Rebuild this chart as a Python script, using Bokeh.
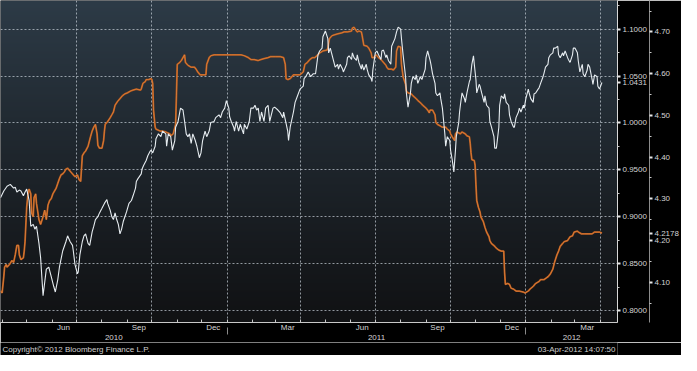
import numpy as np
import pandas as pd
from bokeh.plotting import figure
from bokeh.layouts import column
from bokeh.models import FixedTicker, LinearAxis, Range1d, NumeralTickFormatter, AllLabels
from bokeh.core.properties import value
from bokeh.embed import file_html
from bokeh.resources import INLINE

# ---------------- data ----------------
white_dates = [
"2010-03-30","2010-04-03","2010-04-07","2010-04-11","2010-04-15","2010-04-17","2010-04-19","2010-04-22","2010-04-24","2010-04-27",
"2010-04-29","2010-05-01","2010-05-04","2010-05-06","2010-05-09","2010-05-11","2010-05-13","2010-05-16","2010-05-18","2010-05-21",
"2010-05-25","2010-05-28","2010-05-31","2010-06-03","2010-06-05","2010-06-08","2010-06-10","2010-06-14","2010-06-18","2010-06-20",
"2010-06-23","2010-06-26","2010-06-27","2010-06-29","2010-07-02","2010-07-03","2010-07-05","2010-07-08","2010-07-10","2010-07-12",
"2010-07-15","2010-07-17","2010-07-20","2010-07-22","2010-07-24","2010-07-27","2010-07-29","2010-08-01","2010-08-04","2010-08-07",
"2010-08-08","2010-08-11","2010-08-13","2010-08-15","2010-08-17","2010-08-19","2010-08-21","2010-08-23","2010-08-25","2010-08-27",
"2010-08-29","2010-08-31","2010-09-03","2010-09-06","2010-09-08","2010-09-11","2010-09-12","2010-09-14","2010-09-18","2010-09-19",
"2010-09-21","2010-09-24","2010-09-26","2010-09-29","2010-09-30","2010-10-02","2010-10-05","2010-10-06","2010-10-09","2010-10-12",
"2010-10-14","2010-10-18","2010-10-19","2010-10-21","2010-10-24","2010-10-26","2010-10-29","2010-10-30","2010-11-02","2010-11-05",
"2010-11-08","2010-11-10","2010-11-12","2010-11-14","2010-11-16","2010-11-18","2010-11-20","2010-11-23","2010-11-25","2010-11-28",
"2010-11-30","2010-12-02","2010-12-05","2010-12-07","2010-12-10","2010-12-12","2010-12-16","2010-12-18","2010-12-22","2010-12-24",
"2010-12-26","2010-12-29","2010-12-31","2011-01-03","2011-01-04","2011-01-06","2011-01-09","2011-01-10","2011-01-12","2011-01-15",
"2011-01-17","2011-01-21","2011-01-22","2011-01-25","2011-01-28","2011-01-30","2011-02-02","2011-02-04","2011-02-06","2011-02-08",
"2011-02-10","2011-02-12","2011-02-15","2011-02-17","2011-02-20","2011-02-22","2011-02-26","2011-02-28","2011-03-04","2011-03-07",
"2011-03-10","2011-03-11","2011-03-13","2011-03-16","2011-03-17","2011-03-19","2011-03-23","2011-03-25","2011-03-28","2011-03-31",
"2011-04-04","2011-04-05","2011-04-07","2011-04-10","2011-04-13","2011-04-16","2011-04-19","2011-04-22","2011-04-24","2011-04-27",
"2011-04-28","2011-05-01","2011-05-04","2011-05-05","2011-05-07","2011-05-10","2011-05-13","2011-05-16","2011-05-17","2011-05-19",
"2011-05-22","2011-05-23","2011-05-27","2011-05-28","2011-05-30","2011-06-02","2011-06-03","2011-06-05","2011-06-08","2011-06-09",
"2011-06-11","2011-06-14","2011-06-15","2011-06-17","2011-06-20","2011-06-21","2011-06-23","2011-06-26","2011-06-27","2011-06-28",
"2011-07-01","2011-07-03","2011-07-05","2011-07-08","2011-07-09","2011-07-11","2011-07-14","2011-07-15","2011-07-17","2011-07-20",
"2011-07-21","2011-07-25","2011-07-27","2011-07-29","2011-08-01","2011-08-02","2011-08-04","2011-08-07","2011-08-08","2011-08-10",
"2011-08-13","2011-08-14","2011-08-16","2011-08-19","2011-08-20","2011-08-22","2011-08-25","2011-08-27","2011-08-31","2011-09-01",
"2011-09-03","2011-09-06","2011-09-07","2011-09-09","2011-09-12","2011-09-13","2011-09-15","2011-09-18","2011-09-19","2011-09-21",
"2011-09-24","2011-09-25","2011-09-27","2011-09-30","2011-10-01","2011-10-03","2011-10-05","2011-10-07","2011-10-08","2011-10-11",
"2011-10-12","2011-10-13","2011-10-15","2011-10-18","2011-10-19","2011-10-21","2011-10-24","2011-10-25","2011-10-27","2011-10-29",
"2011-10-30","2011-11-01","2011-11-02","2011-11-05","2011-11-06","2011-11-08","2011-11-11","2011-11-12","2011-11-14","2011-11-17",
"2011-11-18","2011-11-20","2011-11-23","2011-11-24","2011-11-26","2011-11-29","2011-11-30","2011-12-02","2011-12-05","2011-12-06",
"2011-12-08","2011-12-11","2011-12-12","2011-12-14","2011-12-17","2011-12-18","2011-12-20","2011-12-23","2011-12-24","2011-12-26",
"2011-12-29","2011-12-30","2012-01-01","2012-01-04","2012-01-05","2012-01-07","2012-01-10","2012-01-11","2012-01-13","2012-01-16",
"2012-01-17","2012-01-19","2012-01-22","2012-01-23","2012-01-25","2012-01-28","2012-01-29","2012-01-31","2012-02-03","2012-02-04",
"2012-02-06","2012-02-09","2012-02-10","2012-02-12","2012-02-15","2012-02-16","2012-02-18","2012-02-21","2012-02-22","2012-02-24",
"2012-02-27","2012-02-28","2012-03-01","2012-03-04","2012-03-05","2012-03-07","2012-03-10","2012-03-11","2012-03-13","2012-03-16",
"2012-03-17","2012-03-19","2012-03-22","2012-03-23","2012-03-25","2012-03-28","2012-03-29","2012-03-31","2012-04-03"]
white_values = [
0.9204,0.9275,0.9326,0.9346,0.9306,0.9316,0.9265,0.9285,0.9275,0.9224,
0.9265,0.9295,0.9174,0.8900,0.8920,0.8869,0.8900,0.8717,0.8565,0.8159,
0.8443,0.8463,0.8362,0.8260,0.8199,0.8331,0.8463,0.8636,0.8737,0.8798,
0.8737,0.8696,0.8636,0.8493,0.8392,0.8412,0.8595,0.8737,0.8798,0.8818,
0.8717,0.8696,0.8839,0.8900,0.8971,0.9001,0.9042,0.9092,0.9143,0.9184,
0.9143,0.9072,0.9001,0.8971,0.9042,0.8971,0.8920,0.8818,0.8869,0.8950,
0.9001,0.9052,0.9143,0.9174,0.9224,0.9306,0.9377,0.9407,0.9458,0.9509,
0.9549,0.9600,0.9651,0.9701,0.9711,0.9681,0.9752,0.9833,0.9884,0.9854,
0.9914,0.9884,0.9752,0.9884,0.9854,0.9711,0.9813,0.9955,1.0016,1.0158,
1.0138,1.0016,0.9884,0.9854,0.9884,0.9783,0.9884,0.9813,0.9752,0.9630,
0.9681,0.9813,0.9914,0.9854,0.9914,1.0006,1.0016,1.0057,1.0087,1.0057,
1.0117,1.0158,1.0239,1.0158,1.0067,1.0016,0.9955,0.9914,1.0016,0.9914,
0.9986,0.9884,0.9986,0.9935,1.0016,1.0158,1.0158,1.0189,1.0138,1.0158,
1.0016,1.0117,1.0016,1.0158,1.0189,1.0016,1.0158,1.0168,1.0138,1.0107,
1.0057,1.0117,1.0036,0.9914,0.9813,0.9955,1.0117,1.0219,1.0290,1.0361,
1.0392,1.0473,1.0493,1.0544,1.0493,1.0524,1.0524,1.0726,1.0767,1.0798,
1.0919,1.0980,1.0899,1.0747,1.0798,1.0696,1.0594,1.0625,1.0574,1.0625,
1.0574,1.0544,1.0625,1.0696,1.0716,1.0676,1.0747,1.0696,1.0666,1.0726,
1.0645,1.0574,1.0625,1.0564,1.0625,1.0574,1.0513,1.0473,1.0442,1.0564,
1.0747,1.0767,1.0726,1.0676,1.0767,1.0777,1.0696,1.0726,1.0666,1.0625,
1.0818,1.0899,1.0970,1.1021,1.1000,1.0899,1.0726,1.0493,1.0320,1.0168,
1.0320,1.0422,1.0493,1.0463,1.0513,1.0422,1.0493,1.0463,1.0574,1.0696,
1.0767,1.0666,1.0625,1.0524,1.0422,1.0320,1.0290,1.0320,1.0259,1.0158,
0.9884,0.9752,0.9854,0.9813,0.9711,0.9610,0.9478,0.9711,0.9854,1.0006,
1.0117,1.0189,1.0320,1.0259,1.0219,1.0320,1.0442,1.0463,1.0625,1.0716,
1.0625,1.0463,1.0320,1.0412,1.0392,1.0320,1.0219,1.0290,1.0189,1.0158,
1.0016,0.9955,0.9854,0.9732,0.9732,0.9955,1.0189,1.0290,1.0259,1.0310,
1.0219,1.0189,1.0087,1.0016,0.9955,0.9955,1.0057,1.0117,1.0158,1.0117,
1.0189,1.0158,1.0259,1.0361,1.0320,1.0259,1.0219,1.0310,1.0320,1.0361,
1.0371,1.0422,1.0493,1.0524,1.0595,1.0625,1.0696,1.0726,1.0747,1.0798,
1.0798,1.0818,1.0726,1.0696,1.0747,1.0716,1.0767,1.0696,1.0676,1.0645,
1.0726,1.0798,1.0798,1.0747,1.0666,1.0544,1.0625,1.0524,1.0493,1.0564,
1.0625,1.0595,1.0463,1.0412,1.0513,1.0493,1.0392,1.0361,1.0431]

orange_dates = [
"2010-03-30","2010-04-01","2010-04-03","2010-04-04","2010-04-06","2010-04-07","2010-04-10","2010-04-13","2010-04-15","2010-04-17",
"2010-04-19","2010-04-21","2010-04-22","2010-04-24","2010-04-27","2010-04-28","2010-04-29","2010-05-01","2010-05-03","2010-05-04",
"2010-05-06","2010-05-07","2010-05-09","2010-05-10","2010-05-12","2010-05-13","2010-05-16","2010-05-18","2010-05-21","2010-05-23",
"2010-05-25","2010-05-27","2010-05-29","2010-05-31","2010-06-02","2010-06-04","2010-06-06","2010-06-08","2010-06-10","2010-06-12",
"2010-06-14","2010-06-16","2010-06-18","2010-06-20","2010-06-22","2010-06-24","2010-06-26","2010-06-29","2010-07-02","2010-07-04",
"2010-07-06","2010-07-08","2010-07-10","2010-07-12","2010-07-15","2010-07-18","2010-07-20","2010-07-22","2010-07-24","2010-07-26",
"2010-07-27","2010-07-29","2010-08-01","2010-08-03","2010-08-04","2010-08-05","2010-08-08","2010-08-11","2010-08-13","2010-08-15",
"2010-08-17","2010-08-20","2010-08-23","2010-08-26","2010-08-29","2010-09-01","2010-09-05","2010-09-08","2010-09-12","2010-09-17",
"2010-09-18","2010-09-20","2010-09-23","2010-09-24","2010-09-27","2010-09-30","2010-10-01","2010-10-02","2010-10-03","2010-10-05",
"2010-10-06","2010-10-11","2010-10-14","2010-10-18","2010-10-23","2010-10-24","2010-10-27","2010-10-30","2010-10-31","2010-11-01",
"2010-11-04","2010-11-06","2010-11-10","2010-11-11","2010-11-14","2010-11-18","2010-11-22","2010-11-24","2010-11-26","2010-11-29",
"2010-12-04","2010-12-06","2010-12-07","2010-12-10","2010-12-12","2010-12-16","2010-12-19","2010-12-25","2010-12-31","2011-01-06",
"2011-01-12","2011-01-18","2011-01-22","2011-01-27","2011-01-30","2011-02-03","2011-02-08","2011-02-11","2011-02-15","2011-02-20",
"2011-02-23","2011-03-01","2011-03-07","2011-03-11","2011-03-13","2011-03-14","2011-03-16","2011-03-19","2011-03-23","2011-03-28",
"2011-03-31","2011-04-04","2011-04-06","2011-04-09","2011-04-12","2011-04-15","2011-04-18","2011-04-22","2011-04-24","2011-04-28",
"2011-05-03","2011-05-04","2011-05-06","2011-05-09","2011-05-12","2011-05-16","2011-05-21","2011-05-24","2011-05-28","2011-06-02",
"2011-06-03","2011-06-05","2011-06-08","2011-06-09","2011-06-11","2011-06-14","2011-06-15","2011-06-17","2011-06-21","2011-06-23",
"2011-06-26","2011-06-27","2011-06-29","2011-07-02","2011-07-03","2011-07-05","2011-07-08","2011-07-09","2011-07-11","2011-07-14",
"2011-07-15","2011-07-17","2011-07-21","2011-07-23","2011-07-26","2011-07-27","2011-07-29","2011-08-01","2011-08-02","2011-08-04",
"2011-08-07","2011-08-08","2011-08-10","2011-08-14","2011-08-16","2011-08-20","2011-08-22","2011-08-26","2011-08-28","2011-09-01",
"2011-09-03","2011-09-05","2011-09-06","2011-09-09","2011-09-12","2011-09-13","2011-09-15","2011-09-19","2011-09-21","2011-09-25",
"2011-09-27","2011-09-30","2011-10-01","2011-10-03","2011-10-06","2011-10-07","2011-10-09","2011-10-13","2011-10-15","2011-10-19",
"2011-10-21","2011-10-24","2011-10-25","2011-10-26","2011-10-27","2011-10-30","2011-10-31","2011-11-01","2011-11-02","2011-11-04",
"2011-11-06","2011-11-07","2011-11-10","2011-11-12","2011-11-14","2011-11-17","2011-11-18","2011-11-20","2011-11-24","2011-11-26",
"2011-11-29","2011-12-02","2011-12-05","2011-12-06","2011-12-07","2011-12-10","2011-12-12","2011-12-14","2011-12-17","2011-12-20",
"2011-12-24","2011-12-29","2011-12-31","2012-01-04","2012-01-06","2012-01-10","2012-01-13","2012-01-17","2012-01-19","2012-01-23",
"2012-01-28","2012-01-31","2012-02-03","2012-02-05","2012-02-08","2012-02-10","2012-02-12","2012-02-15","2012-02-17","2012-02-21",
"2012-02-24","2012-02-27","2012-02-29","2012-03-04","2012-03-05","2012-03-09","2012-03-13","2012-03-17","2012-03-22","2012-03-25",
"2012-03-29","2012-03-31","2012-04-03"]
orange_values = [
4.0790,4.0745,4.1132,4.1361,4.1429,4.1361,4.1429,4.1520,4.1475,4.1657,
4.1886,4.1886,4.1657,4.1543,4.1589,4.1749,4.1977,4.2799,4.3187,4.3233,
4.3119,4.2662,4.2571,4.3027,4.3119,4.2890,4.2502,4.2388,4.2571,4.2730,
4.2502,4.2845,4.2959,4.3004,4.3119,4.3187,4.3255,4.3370,4.3484,4.3575,
4.3598,4.3644,4.3712,4.3735,4.3689,4.3644,4.3598,4.3529,4.3575,4.3461,
4.3415,4.4032,4.4100,4.4146,4.4260,4.4488,4.4625,4.4717,4.4785,4.4557,
4.4283,4.4214,4.4214,4.4397,4.4625,4.4785,4.4853,4.4945,4.5013,4.5082,
4.5242,4.5333,4.5401,4.5470,4.5516,4.5539,4.5584,4.5607,4.5630,4.5607,
4.5630,4.5767,4.5812,4.5858,4.5858,4.5881,4.5858,4.5767,4.5128,4.4717,
4.4671,4.4625,4.4625,4.4603,4.4557,4.4511,4.4557,4.4785,4.5470,4.6223,
4.6269,4.6315,4.6452,4.6269,4.6201,4.6155,4.6155,4.6109,4.6041,4.5972,
4.5972,4.5972,4.6223,4.6383,4.6429,4.6452,4.6452,4.6452,4.6452,4.6452,
4.6452,4.6452,4.6429,4.6383,4.6338,4.6338,4.6315,4.6338,4.6360,4.6383,
4.6406,4.6406,4.6406,4.6383,4.6223,4.5881,4.5858,4.5881,4.5972,4.5972,
4.5972,4.6041,4.6223,4.6269,4.6338,4.6383,4.6383,4.6452,4.6497,4.6543,
4.6566,4.6612,4.6840,4.6908,4.6931,4.6954,4.6977,4.7000,4.7000,4.7022,
4.7091,4.7114,4.7022,4.7000,4.7022,4.7000,4.6908,4.6680,4.6657,4.6612,
4.6497,4.6383,4.6383,4.6452,4.6429,4.6383,4.6338,4.6315,4.6269,4.6201,
4.6155,4.6109,4.6109,4.6086,4.6155,4.6543,4.6657,4.6634,4.6223,4.5927,
4.5744,4.5584,4.5539,4.5516,4.5470,4.5401,4.5356,4.5287,4.5242,4.5173,
4.5128,4.5059,4.5128,4.5128,4.5013,4.4831,4.4785,4.4739,4.4717,4.4717,
4.4671,4.4625,4.4557,4.4488,4.4397,4.4557,4.4603,4.4557,4.4603,4.4557,
4.4511,4.4488,4.4329,4.4100,4.3940,4.3917,4.3803,4.3347,4.2959,4.2799,
4.2685,4.2571,4.2456,4.2320,4.2205,4.2091,4.2000,4.1931,4.1863,4.1817,
4.1772,4.1749,4.1749,4.1246,4.0950,4.0973,4.0950,4.0858,4.0836,4.0790,
4.0790,4.0767,4.0745,4.0790,4.0836,4.0904,4.0973,4.1018,4.1064,4.1064,
4.1132,4.1201,4.1316,4.1475,4.1657,4.1749,4.1863,4.1931,4.1977,4.2000,
4.2091,4.2114,4.2205,4.2228,4.2205,4.2160,4.2160,4.2160,4.2160,4.2205,
4.2205,4.2205,4.2178]

white_ticks = [0.80, 0.85, 0.90, 0.95, 1.00, 1.05, 1.10]
orange_ticks = [4.10, 4.20, 4.30, 4.40, 4.50, 4.60, 4.70]
month_labels = ["Jun", "Sep", "Dec", "Mar", "Jun", "Sep", "Dec", "Mar"]
month_label_dates = ["2010-06-15", "2010-09-15", "2010-12-15", "2011-03-16",
                     "2011-06-15", "2011-09-15", "2011-12-15", "2012-03-16"]
quarter_dates = ["2010-07-01", "2010-10-01", "2011-01-01", "2011-04-01",
                 "2011-07-01", "2011-10-01", "2012-01-01", "2012-04-01"]
year_labels = ["2010", "2011", "2012"]
year_start_dates = ["2011-01-01", "2012-01-01"]
x_start_date, x_end_date = "2010-03-30", "2012-04-22"
white_range = (0.7874, 1.1305)
orange_range = (4.0037, 4.7753)
last_white = 1.0431
last_orange = 4.2178
copyright_text = "Copyright\u00a9 2012 Bloomberg Finance L.P."
stamp_text = "03-Apr-2012 14:07:50"

# ---------------- helpers ----------------
def ms(d):
    return pd.Timestamp(d).value / 1e6

FONT = "Liberation Sans"
TXT = "#d4d4d4"

x0, x1 = ms(x_start_date), ms(x_end_date)
p = figure(width=681, height=342, x_axis_type="datetime", y_axis_location="right",
           x_range=Range1d(x0, x1), y_range=Range1d(*white_range),
           output_backend="svg", toolbar_location=None,
           min_border_left=0, min_border_top=0, min_border_right=52, min_border_bottom=0,
           background_fill_color="black", border_fill_color="black", outline_line_color=None)
p.extra_y_ranges = {"orange": Range1d(*orange_range)}

# background gradient (top slate blue -> bottom near black)
n = 240
img = np.empty((n, 1), dtype=np.uint32)
view = img.view(dtype=np.uint8).reshape((n, 1, 4))
top = np.array([45, 59, 71]); bot = np.array([17, 18, 20])
for i in range(n):
    t = i / (n - 1)
    c = bot + (top - bot) * (t ** 1.1)
    view[i, 0, 0:3] = c.astype(np.uint8)
    view[i, 0, 3] = 255
p.image_rgba(image=[img], x=x0, y=white_range[0], dw=x1 - x0,
             dh=white_range[1] - white_range[0], level="image")

# grids
p.xgrid.ticker = FixedTicker(ticks=[ms(d) for d in quarter_dates])
p.ygrid.ticker = FixedTicker(ticks=white_ticks)
for g in (p.xgrid, p.ygrid):
    g.grid_line_color = "#c8d0d8"
    g.grid_line_alpha = 0.7
    g.grid_line_dash = "2 2"
    g.grid_line_width = 1

# x axis: month labels
month_starts = [ms(d) for d in pd.date_range("2010-04-01", "2012-04-01", freq="MS")]
label_ms = [ms(d) for d in month_label_dates]
xa = p.xaxis[0]
xa.ticker = FixedTicker(ticks=label_ms, minor_ticks=month_starts)
xa.major_label_overrides = {k: v for k, v in zip(label_ms, month_labels)}
xa.major_tick_line_color = None
xa.major_tick_in = 0
xa.major_tick_out = 0
xa.minor_tick_in = 3
xa.minor_tick_out = 0
xa.minor_tick_line_color = "#c8c8c8"
xa.axis_line_color = "#c8c8c8"
xa.major_label_standoff = 0
xa.major_label_text_font = FONT
xa.major_label_text_font_size = "8px"
xa.major_label_text_color = TXT

# year axis (separators drawn as minor ticks at the year boundaries)
ys = [x0] + [ms(d) for d in year_start_dates] + [x1]
year_mid = [(a + b) / 2 for a, b in zip(ys[:-1], ys[1:])]
ya = LinearAxis(ticker=FixedTicker(ticks=year_mid, minor_ticks=[ms(d) for d in year_start_dates]))
ya.major_label_overrides = {k: v for k, v in zip(year_mid, year_labels)}
ya.axis_line_color = None
ya.major_tick_line_color = None
ya.major_tick_in = 0
ya.major_tick_out = 0
ya.minor_tick_in = 7
ya.minor_tick_out = 0
ya.minor_tick_line_color = "#8a8a8a"
ya.major_label_standoff = 0
ya.major_label_text_font = FONT
ya.major_label_text_font_size = "8px"
ya.major_label_text_color = TXT
p.add_layout(ya, "below")

# right axis 1 (white series) - last value shown as an extra labelled tick
wa = p.yaxis[0]
wa.ticker = FixedTicker(ticks=white_ticks + [last_white],
                        minor_ticks=[a + 0.025 for a in white_ticks])
wa.formatter = NumeralTickFormatter(format="0.0000")
wa.major_label_overrides = {last_white: f"{last_white:.4f}"}
wa.major_label_policy = AllLabels()
wa.axis_line_color = "#d8d8d8"
wa.major_tick_line_color = "#e8e8e8"
wa.major_tick_in = 0
wa.major_tick_out = 3
wa.major_tick_line_width = 2
wa.minor_tick_line_color = "#c8c8c8"
wa.minor_tick_in = 0
wa.minor_tick_out = 2
wa.major_label_standoff = 2
wa.major_label_text_font = FONT
wa.major_label_text_font_size = "8px"
wa.major_label_text_color = TXT

# right axis 2 (orange series) - last value shown as an extra labelled tick
oa = LinearAxis(y_range_name="orange",
                ticker=FixedTicker(ticks=orange_ticks + [last_orange],
                                   minor_ticks=[a + 0.05 for a in orange_ticks] + [orange_ticks[0] - 0.05]),
                formatter=NumeralTickFormatter(format="0.00"))
oa.major_label_overrides = {last_orange: f"{last_orange:.4f}"}
oa.major_label_policy = AllLabels()
oa.axis_line_color = "#8c8c8c"
oa.major_tick_line_color = "#e8e8e8"
oa.major_tick_in = 0
oa.major_tick_out = 3
oa.major_tick_line_width = 2
oa.minor_tick_line_color = "#c8c8c8"
oa.minor_tick_in = 0
oa.minor_tick_out = 2
oa.major_label_standoff = 2
oa.major_label_text_font = FONT
oa.major_label_text_font_size = "8px"
oa.major_label_text_color = TXT
p.add_layout(oa, "right")

# series
wd = pd.to_datetime(white_dates)
od = pd.to_datetime(orange_dates)
p.line(x=od, y=orange_values, y_range_name="orange", line_color="#b85a1c", line_width=1.8)
p.line(x=od, y=orange_values, y_range_name="orange", line_color="#f29a55", line_width=0.6, line_alpha=0.8)
p.line(x=wd, y=white_values, line_color="#e6ecf0", line_width=1.1)

# footer strip
foot = figure(width=681, height=13, x_range=Range1d(0, 1), y_range=Range1d(0, 1),
              output_backend="svg", toolbar_location=None,
              min_border=0, background_fill_color="black", border_fill_color="black",
              outline_line_color=None)
foot.axis.visible = False
foot.grid.visible = False
foot.text(x=[0], y=[0.5], text=[copyright_text], x_offset=2, text_align="left",
          text_baseline="middle", text_font=value(FONT), text_font_size="8px", text_color="#cfcfcf")
foot.text(x=[1], y=[0.5], text=[stamp_text], x_offset=-2, text_align="right",
          text_baseline="middle", text_font=value(FONT), text_font_size="8px", text_color="#cfcfcf")

layout = column(p, foot, spacing=0)
open("out.html", "w").write(file_html(layout, INLINE))
